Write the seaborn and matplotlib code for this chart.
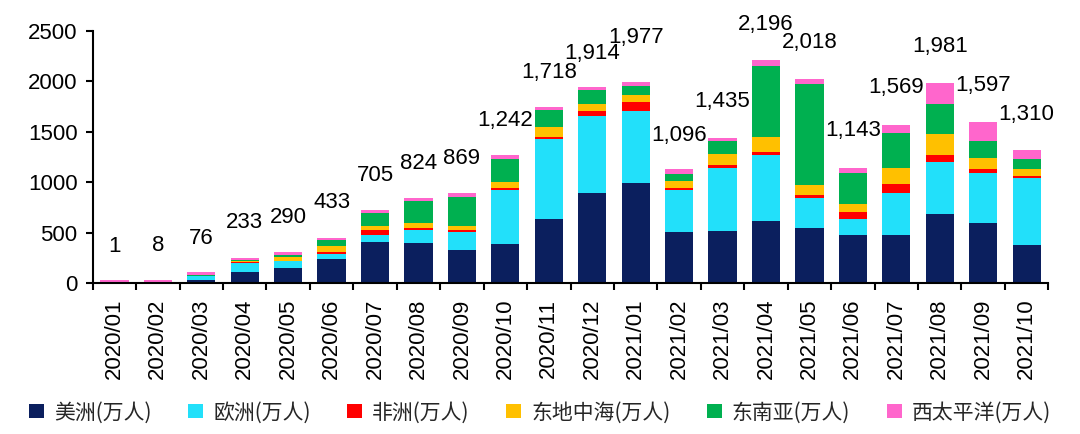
import numpy as np
import pandas as pd
import matplotlib
matplotlib.use("Agg")
import matplotlib.pyplot as plt
from matplotlib.patches import Patch
from matplotlib.ticker import FixedLocator
import seaborn as sns

months = ["2020/01", "2020/02", "2020/03", "2020/04", "2020/05", "2020/06",
          "2020/07", "2020/08", "2020/09", "2020/10", "2020/11", "2020/12",
          "2021/01", "2021/02", "2021/03", "2021/04", "2021/05", "2021/06",
          "2021/07", "2021/08", "2021/09", "2021/10"]

americas = [0, 0, 30, 110, 155, 245, 410, 400, 330, 385, 640, 895,
            995, 505, 520, 615, 550, 480, 480, 690, 597, 375]
europe = [0, 0, 40, 95, 65, 50, 65, 125, 180, 535, 790, 765,
          715, 415, 625, 655, 290, 160, 415, 510, 492, 670]
africa = [0, 0, 2, 5, 5, 15, 50, 25, 15, 20, 17, 43,
          83, 27, 24, 30, 30, 63, 90, 67, 40, 16]
east_med = [0, 0, 3, 10, 40, 55, 45, 45, 45, 65, 100, 73,
            73, 66, 110, 150, 103, 83, 160, 210, 110, 66]
se_asia = [0, 0, 3, 10, 20, 65, 130, 215, 285, 230, 165, 133,
           83, 73, 132, 700, 996, 310, 340, 300, 172, 100]
w_pacific = [30, 30, 30, 20, 25, 20, 30, 35, 40, 33, 35, 33,
             43, 43, 30, 60, 56, 50, 80, 210, 190, 90]

totals = [1, 8, 76, 233, 290, 433, 705, 824, 869, 1242, 1718, 1914,
          1977, 1096, 1435, 2196, 2018, 1143, 1569, 1981, 1597, 1310]

series_names = ["美洲(万人)", "欧洲(万人)", "非洲(万人)",
                "东地中海(万人)", "东南亚(万人)", "西太平洋(万人)"]
series_values = [americas, europe, africa, east_med, se_asia, w_pacific]
colors = ["#0B1F5E", "#22E0FA", "#FF0000", "#FFC000", "#00B050", "#FF66CC"]

sns.set_theme(style="ticks")
plt.rcParams["font.family"] = ["Liberation Sans", "Noto Sans CJK SC", "DejaVu Sans"]

fig = plt.figure(figsize=(10.8, 4.34), dpi=100)
ax = fig.add_axes([0.0858, 0.3472, 0.8849, 0.5821])

df = pd.DataFrame({"month": months})
cum = np.zeros(len(months))
cums = []
for vals in series_values:
    cum = cum + np.array(vals, dtype=float)
    cums.append(cum.copy())

# draw from the top layer down so lower segments overlay upper ones
for c, col in zip(reversed(cums), reversed(colors)):
    df["v"] = c
    sns.barplot(data=df, x="month", y="v", order=months, color=col,
                saturation=1, width=0.65, linewidth=0, errorbar=None, ax=ax)

label_offsets = [365] * len(totals)
label_offsets[12] = 455
for i, (t, off) in enumerate(zip(totals, label_offsets)):
    ax.text(i, t + off, f"{t:,}", ha="center", va="center",
            fontsize=16, color="black", clip_on=False)

ax.set_xlim(-0.5, len(months) - 0.5)
ax.set_ylim(0, 2500)
ax.set_yticks([0, 500, 1000, 1500, 2000, 2500])
ax.set_xlabel("")
ax.set_ylabel("")
sns.despine(ax=ax)
for s in ["left", "bottom"]:
    ax.spines[s].set_linewidth(1.5)
    ax.spines[s].set_color("black")

ax.tick_params(axis="y", labelsize=16, length=5, width=1.5, pad=6, colors="black")
ax.tick_params(axis="x", which="major", labelsize=16, length=0, pad=11,
               rotation=90, colors="black")
ax.xaxis.set_minor_locator(FixedLocator(np.arange(-0.5, len(months), 1.0)))
ax.tick_params(axis="x", which="minor", length=5, width=1.5, color="black")

handles = [Patch(facecolor=c, edgecolor="none") for c in colors]
fig.legend(handles, series_names, loc="center", bbox_to_anchor=(0.5, 0.05),
           ncol=6, frameon=False, handlelength=0.72,
           handleheight=0.72, handletextpad=0.48, columnspacing=1.75,
           prop={"family": ["Noto Sans CJK SC", "DejaVu Sans"], "size": 15})

fig.savefig("out.png", dpi=100)
